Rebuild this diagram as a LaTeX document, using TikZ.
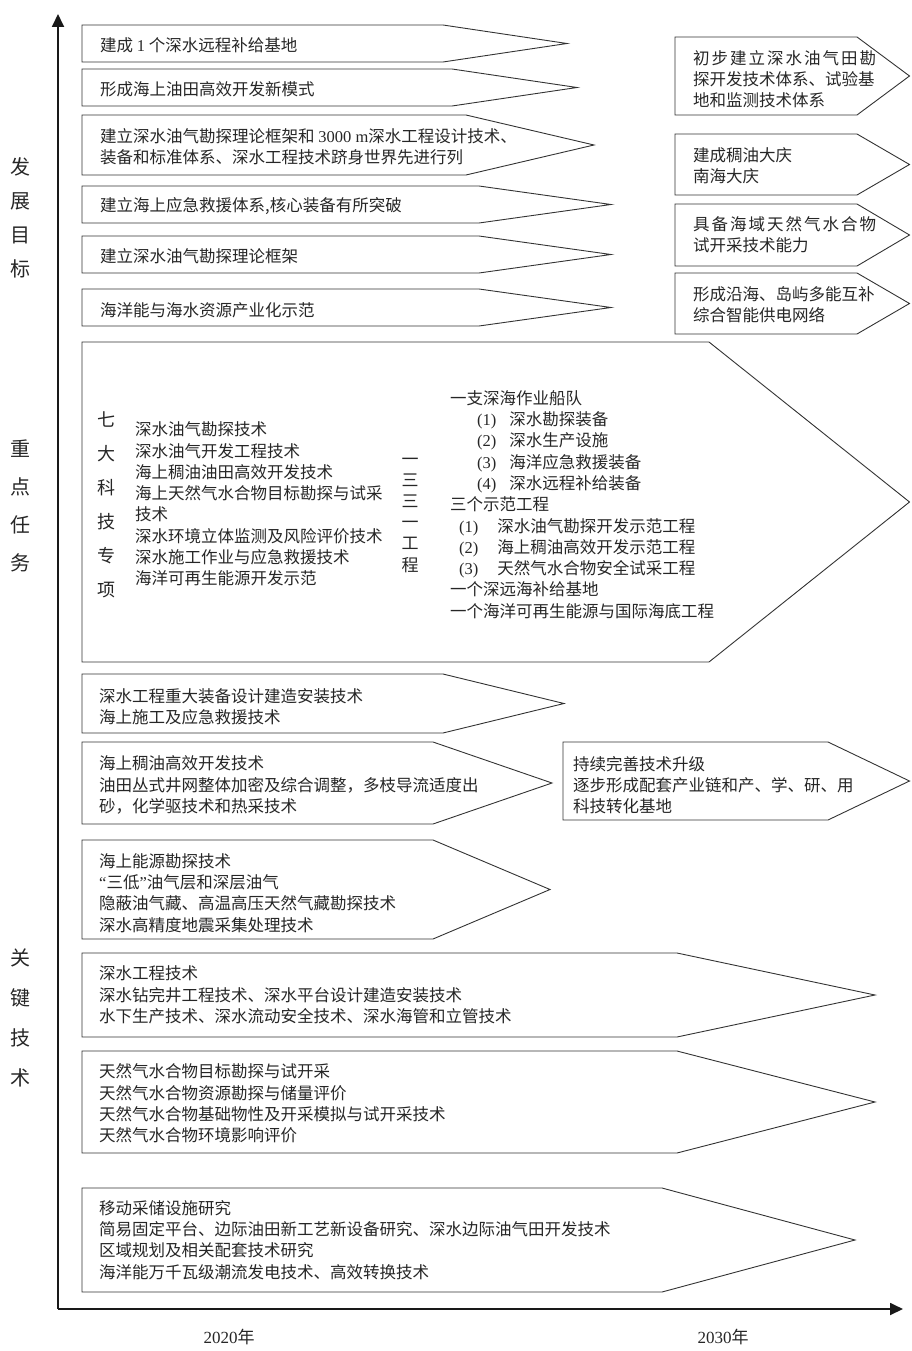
\documentclass[tikz,border=0pt]{standalone}
\usepackage{fontspec}
\setmainfont{Noto Sans CJK SC}
\newfontfamily\lat{Liberation Serif}
\newfontfamily\cjkwide{Noto Sans CJK SC}[LetterSpace=12]
\usetikzlibrary{arrows.meta}
\newcommand{\abox}[5]{% left, top, bottom, shoulder, tip
  \draw[boxline] (#1,#2) -- (#4,#2) -- (#5,{(#2+#3)/2}) -- (#4,#3) -- (#1,#3) -- cycle;}
\tikzset{
  boxline/.style={draw=black!80, line width=0.9pt, line join=miter},
  axisline/.style={line width=1.8pt, draw=black!90, -{Triangle[length=13pt,width=12pt]}},
  txt/.style={anchor=west, align=left, inner sep=0pt, text=black!85,
    font=\fontsize{16.5}{21.3}\selectfont},
  vlabel/.style={align=center, inner sep=0pt, text=black!85},
}
\begin{document}
\begin{tikzpicture}[x=1pt,y=-1pt]
\useasboundingbox (0,0) rectangle (911,1351);
% axes
\coordinate (O) at (58,1309);
\coordinate (ytop) at (58,14);
\coordinate (xend) at (903,1309);
\draw[axisline] (O) -- (ytop);
\draw[axisline] (O) -- (xend);

% left labels
\node[vlabel, font=\fontsize{20}{34}\selectfont] (lab1) at (20,218) {发\\展\\目\\标};
\node[vlabel, font=\fontsize{20}{38}\selectfont] (lab2) at (20,506) {重\\点\\任\\务};
\node[vlabel, font=\fontsize{20}{40}\selectfont] (lab3) at (20,1018) {关\\键\\技\\术};

% development goals (left column)
\abox{82}{25}{62}{443}{567}
\abox{82}{69}{106}{452}{577}
\abox{82}{115}{175}{466}{594}
\abox{82}{186}{223}{479}{611}
\abox{82}{236}{273}{479}{611}
\abox{82}{289}{326}{479}{611}
\node[txt] (g1) at (100,45) {建成 {\lat 1} 个深水远程补给基地};
\node[txt] (g2) at (100,89) {形成海上油田高效开发新模式};
\node[txt] (g3) at (100,147) {建立深水油气勘探理论框架和 {\lat 3000 m}深水工程设计技术、\\装备和标准体系、深水工程技术跻身世界先进行列};
\node[txt] (g4) at (100,206) {建立海上应急救援体系,核心装备有所突破};
\node[txt] (g5) at (100,256) {建立深水油气勘探理论框架};
\node[txt] (g6) at (100,310) {海洋能与海水资源产业化示范};

% development goals (right column)
\abox{675}{37}{115}{857}{909.5}
\abox{675}{134}{195}{857}{909.5}
\abox{675}{204}{266}{857}{909.5}
\abox{675}{273}{334}{857}{909.5}
\node[txt] (r1) at (693,79) {{\cjkwide 初步建立深水油气田勘}\\探开发技术体系、试验基\\地和监测技术体系};
\node[txt] (r2) at (693,166) {建成稠油大庆\\南海大庆};
\node[txt] (r3) at (693,235) {{\cjkwide 具备海域天然气水合物}\\试开采技术能力};
\node[txt] (r4) at (693,305) {形成沿海、岛屿多能互补\\综合智能供电网络};

% key tasks
\abox{82}{342}{662}{709}{909.5}
\node[vlabel, font=\fontsize{18}{34}\selectfont] (seven) at (106,505) {七\\大\\科\\技\\专\\项};
\node[txt] (m1) at (135,504) {深水油气勘探技术\\深水油气开发工程技术\\海上稠油油田高效开发技术\\海上天然气水合物目标勘探与试采\\技术\\深水环境立体监测及风险评价技术\\深水施工作业与应急救援技术\\海洋可再生能源开发示范};
\node[vlabel, font=\fontsize{17}{21.2}\selectfont] (proj) at (410,515) {一\\三\\三\\一\\工\\程};
\node[txt] (m2) at (450,504.5) {一支深海作业船队\\
\hspace*{27pt}{\lat (1)}\hspace{13pt}深水勘探装备\\
\hspace*{27pt}{\lat (2)}\hspace{13pt}深水生产设施\\
\hspace*{27pt}{\lat (3)}\hspace{13pt}海洋应急救援装备\\
\hspace*{27pt}{\lat (4)}\hspace{13pt}深水远程补给装备\\
三个示范工程\\
\hspace*{9pt}{\lat (1)}\hspace{19pt}深水油气勘探开发示范工程\\
\hspace*{9pt}{\lat (2)}\hspace{19pt}海上稠油高效开发示范工程\\
\hspace*{9pt}{\lat (3)}\hspace{19pt}天然气水合物安全试采工程\\
一个深远海补给基地\\
一个海洋可再生能源与国际海底工程};

% key technologies
\abox{82}{674}{733}{443}{564}
\abox{82}{742}{824}{433}{552}
\abox{563}{742}{820}{828}{909.5}
\abox{82}{840}{939}{433}{550}
\abox{82}{953}{1037}{677}{875}
\abox{82}{1051}{1153}{677}{875}
\abox{82}{1188}{1292}{662}{855}
\node[txt] (k1) at (99,706.5) {深水工程重大装备设计建造安装技术\\海上施工及应急救援技术};
\node[txt] (k2) at (99,785) {海上稠油高效开发技术\\油田丛式井网整体加密及综合调整，多枝导流适度出\\砂，化学驱技术和热采技术};
\node[txt] (kr) at (573,785) {持续完善技术升级\\逐步形成配套产业链和产、学、研、用\\科技转化基地};
\node[txt] (k3) at (99,893) {海上能源勘探技术\\{\lat “}三低{\lat ”}油气层和深层油气\\隐蔽油气藏、高温高压天然气藏勘探技术\\深水高精度地震采集处理技术};
\node[txt] (k4) at (99,995) {深水工程技术\\深水钻完井工程技术、深水平台设计建造安装技术\\水下生产技术、深水流动安全技术、深水海管和立管技术};
\node[txt] (k5) at (99,1103.5) {天然气水合物目标勘探与试开采\\天然气水合物资源勘探与储量评价\\天然气水合物基础物性及开采模拟与试开采技术\\天然气水合物环境影响评价};
\node[txt] (k6) at (99,1240) {移动采储设施研究\\简易固定平台、边际油田新工艺新设备研究、深水边际油气田开发技术\\区域规划及相关配套技术研究\\海洋能万千瓦级潮流发电技术、高效转换技术};

% years
\node[vlabel, font=\fontsize{17}{19}\selectfont] (y2020) at (229,1337) {{\lat 2020}年};
\node[vlabel, font=\fontsize{17}{19}\selectfont] (y2030) at (723,1337) {{\lat 2030}年};
\end{tikzpicture}
\end{document}
